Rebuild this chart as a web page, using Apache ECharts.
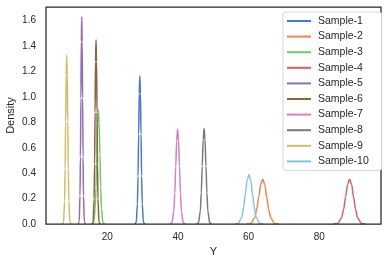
<!DOCTYPE html>
<html>
<head>
<meta charset="utf-8">
<script src="https://cdn.jsdelivr.net/npm/echarts@6/dist/echarts.min.js"></script>
<style>html,body{margin:0;padding:0;background:#fff;}#c{width:388px;height:265px;}</style>
</head>
<body>
<div id="c"></div>
<script>
const sampleNames = ['Sample-1','Sample-2','Sample-3','Sample-4','Sample-5','Sample-6','Sample-7','Sample-8','Sample-9','Sample-10'];
const colors = ['#4878d0','#ee854a','#6acc64','#d65f5f','#956cb4','#8c613c','#dc7ec0','#797979','#d5bb67','#82c6e2'];
const xTickLabels = [20, 40, 60, 80];
const yTickLabels = [0, 0.2, 0.4, 0.6, 0.8, 1.0, 1.2, 1.4, 1.6];

const sample1X = [27.84, 28.18, 28.52, 28.69, 28.86, 29.03, 29.2, 29.37, 29.54, 29.71, 29.88, 30.22, 30.56];
const sample1Y = [0, 0.013, 0.158, 0.378, 0.707, 1.028, 1.165, 1.028, 0.707, 0.378, 0.158, 0.013, 0];
const sample2X = [59.48, 60.61, 61.74, 62.31, 62.87, 63.44, 64.0, 64.57, 65.13, 65.70, 66.26, 67.39, 68.52];
const sample2Y = [0, 0.004, 0.048, 0.114, 0.213, 0.311, 0.352, 0.311, 0.213, 0.114, 0.048, 0.004, 0];
const sample3X = [15.69, 16.13, 16.57, 16.79, 17.01, 17.23, 17.45, 17.67, 17.89, 18.11, 18.33, 18.77, 19.21];
const sample3Y = [0, 0.010, 0.122, 0.292, 0.546, 0.794, 0.90, 0.794, 0.546, 0.292, 0.122, 0.010, 0];
const sample4X = [84.08, 85.21, 86.34, 86.91, 87.47, 88.04, 88.6, 89.17, 89.73, 90.30, 90.86, 91.99, 93.12];
const sample4Y = [0, 0.004, 0.048, 0.114, 0.213, 0.311, 0.352, 0.311, 0.213, 0.114, 0.048, 0.004, 0];
const sample5X = [11.77, 12.02, 12.26, 12.38, 12.51, 12.63, 12.75, 12.87, 13.0, 13.12, 13.24, 13.49, 13.73];
const sample5Y = [0, 0.018, 0.221, 0.529, 0.989, 1.438, 1.63, 1.438, 0.989, 0.529, 0.221, 0.018, 0];
const sample6X = [15.7, 15.98, 16.25, 16.39, 16.53, 16.66, 16.8, 16.94, 17.08, 17.21, 17.35, 17.63, 17.9];
const sample6Y = [0, 0.016, 0.196, 0.471, 0.879, 1.280, 1.45, 1.280, 0.879, 0.471, 0.196, 0.016, 0];
const sample7X = [37.76, 38.30, 38.83, 39.10, 39.37, 39.63, 39.9, 40.17, 40.44, 40.70, 40.97, 41.51, 42.04];
const sample7Y = [0, 0.008, 0.101, 0.242, 0.452, 0.657, 0.745, 0.657, 0.452, 0.242, 0.101, 0.008, 0];
const sample8X = [45.28, 45.81, 46.34, 46.61, 46.87, 47.14, 47.4, 47.67, 47.93, 48.2, 48.46, 48.99, 49.52];
const sample8Y = [0, 0.008, 0.102, 0.245, 0.457, 0.665, 0.753, 0.665, 0.457, 0.245, 0.102, 0.008, 0];
const sample9X = [7.3, 7.6, 7.9, 8.05, 8.2, 8.35, 8.5, 8.65, 8.8, 8.95, 9.1, 9.4, 9.7];
const sample9Y = [0, 0.015, 0.18, 0.432, 0.807, 1.174, 1.33, 1.174, 0.807, 0.432, 0.18, 0.015, 0];
const sample10X = [56.02, 57.04, 58.06, 58.57, 59.08, 59.59, 60.1, 60.61, 61.12, 61.63, 62.14, 63.16, 64.18];
const sample10Y = [0, 0.004, 0.053, 0.127, 0.237, 0.344, 0.39, 0.344, 0.237, 0.127, 0.053, 0.004, 0];

const allX = [sample1X, sample2X, sample3X, sample4X, sample5X, sample6X, sample7X, sample8X, sample9X, sample10X];
const allY = [sample1Y, sample2Y, sample3Y, sample4Y, sample5Y, sample6Y, sample7Y, sample8Y, sample9Y, sample10Y];

const FONT = '"Liberation Sans", Arial, sans-serif';
const TXT = '#262626';

const series = sampleNames.map((name, i) => ({
  name: name,
  type: 'line',
  data: allX[i].map((x, j) => [x, allY[i][j]]),
  smooth: 0.35,
  smoothMonotone: 'x',
  symbol: 'none',
  lineStyle: { width: 1.5, color: colors[i] },
  itemStyle: { color: colors[i] },
  z: 2
}));

const chart = echarts.init(document.getElementById('c'), null, { renderer: 'canvas' });
chart.setOption({
  animation: false,
  color: colors,
  grid: { left: 46, right: 7, top: 7, bottom: 41, containLabel: false, outerBoundsMode: 'none', show: true, borderColor: '#262626', borderWidth: 1.25, backgroundColor: 'transparent', z: 3 },
  legend: {
    orient: 'vertical',
    left: 283,
    top: 12,
    padding: [3, 13, 3, 4],
    itemGap: 3.6,
    itemWidth: 24,
    itemHeight: 2,
    icon: 'rect',
    backgroundColor: '#ffffff',
    borderColor: '#d6d6d6',
    borderWidth: 1,
    borderRadius: 3,
    textStyle: { fontFamily: FONT, fontSize: 10.5, color: TXT, lineHeight: 12, padding: [0, 0, 0, 2] },
    data: sampleNames
  },
  xAxis: {
    type: 'value',
    min: 2.63,
    max: 97.5,
    name: 'Y',
    nameLocation: 'middle',
    nameGap: 22,
    nameMoveOverlap: false,
    nameTextStyle: { fontFamily: FONT, fontSize: 11, color: TXT },
    axisLine: { show: false },
    axisTick: { show: false },
    splitLine: { show: false },
    axisLabel: { customValues: xTickLabels, fontFamily: FONT, fontSize: 10, color: TXT, margin: 8 }
  },
  yAxis: {
    type: 'value',
    min: 0,
    max: 1.708,
    name: 'Density',
    nameLocation: 'middle',
    nameGap: 30,
    nameMoveOverlap: false,
    nameTextStyle: { fontFamily: FONT, fontSize: 11, color: TXT },
    axisLine: { show: false },
    axisTick: { show: false },
    splitLine: { show: false },
    axisLabel: { customValues: yTickLabels, fontFamily: FONT, fontSize: 10, color: TXT, margin: 10, formatter: v => v.toFixed(1) }
  },
  series: series
});
</script>
</body>
</html>
